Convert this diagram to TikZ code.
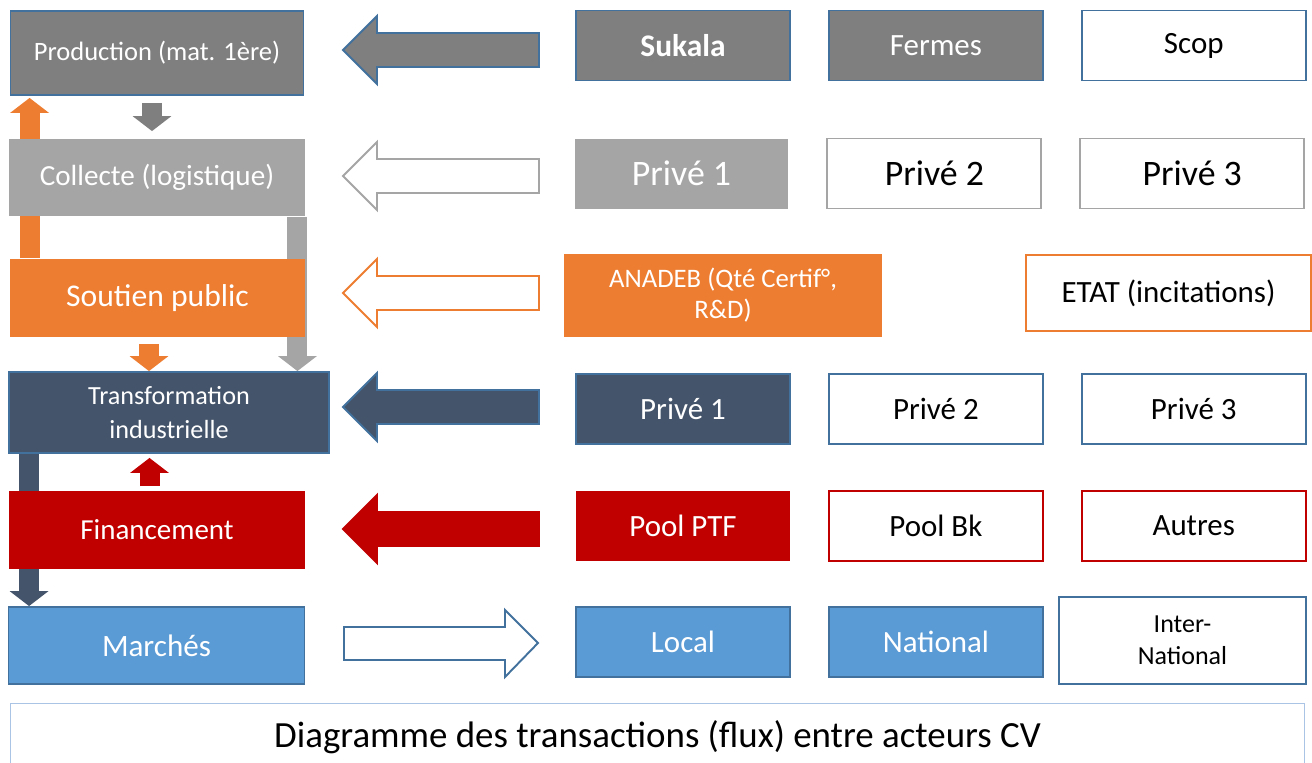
\documentclass[tikz,border=0pt]{standalone}
\usepackage{fontspec}
\setmainfont{Carlito}
\usetikzlibrary{positioning,arrows.meta,backgrounds}

\definecolor{gris}{HTML}{7F7F7F}
\definecolor{grisclair}{HTML}{A5A5A5}
\definecolor{orangecv}{HTML}{ED7D31}
\definecolor{ardoise}{HTML}{44546A}
\definecolor{rouge}{HTML}{C00000}
\definecolor{bleu}{HTML}{5B9BD5}
\definecolor{bleufonce}{HTML}{41719C}
\definecolor{bleupale}{HTML}{A9C4E4}

\begin{document}
\begin{tikzpicture}[
    x=0.02cm, y=-0.02cm,
    every node/.style={align=center, inner sep=2pt},
    boite/.style ={rectangle, line width=1.1pt, text=white},
    etape/.style ={boite, minimum width=5.92cm, minimum height=1.56cm},
    acteur/.style={boite, minimum width=4.28cm, minimum height=1.4cm,
                   font=\fontsize{17.6}{21}\selectfont},
    vide/.style  ={acteur, fill=white, text=black},
    prive/.style ={font=\fontsize{20.4}{24}\selectfont},
    fleche/.style={line width=1.1pt, line join=miter},
    lien/.style  ={line width=0.4cm,
                   -{Triangle[width=0.78cm, length=0.3cm, line width=0pt]}}
  ]
  \useasboundingbox (0,0) rectangle (1312,762);

  % colonne des fonctions
  \node[etape, fill=gris, draw=bleufonce, minimum width=5.86cm, minimum height=1.68cm,
        font=\fontsize{15.1}{18}\selectfont]            (prod)  at (157,53)    {Production (mat. 1ère)};
  \node[etape, fill=grisclair, minimum height=1.54cm,
        font=\fontsize{16.6}{20}\selectfont]            (coll)  at (157,177.5) {Collecte (logistique)};
  \node[etape, fill=orangecv, font=\fontsize{18}{22}\selectfont]
                                                        (sout)  at (157.5,298) {Soutien public};
  \node[etape, fill=ardoise, draw=bleufonce, minimum width=6.4cm, minimum height=1.62cm,
        font=\fontsize{14.9}{19.3}\selectfont]          (trans) at (169,412.5) {Transformation\\industrielle};
  \node[etape, fill=rouge, font=\fontsize{16.5}{20}\selectfont]
                                                        (fin)   at (157,530)   {Financement};
  \node[etape, fill=bleu, draw=bleufonce, minimum height=1.54cm,
        font=\fontsize{17.7}{21}\selectfont]            (march) at (156.5,645.5) {Marchés};

  % acteurs par ligne
  \node[acteur, fill=gris, draw=bleufonce,
        font=\bfseries\fontsize{17.9}{21}\selectfont]   (sukala) at (683,45.5) {Sukala};
  \node[acteur, fill=gris, draw=bleufonce, right=0.74cm of sukala]          (fermes) {Fermes};
  \node[vide, draw=bleufonce, minimum width=4.48cm, right=0.74cm of fermes] (scop)   {Scop};

  \node[acteur, prive, fill=grisclair]                  (priveUn) at (681.5,173.5) {Privé 1};
  \node[vide, prive, draw=grisclair, right=0.74cm of priveUn]                      (priveDeux)  {Privé 2};
  \node[vide, prive, draw=grisclair, minimum width=4.48cm, right=0.74cm of priveDeux] (priveTrois) {Privé 3};

  \node[acteur, fill=orangecv, minimum width=6.36cm, minimum height=1.66cm,
        font=\fontsize{15.2}{17.6}\selectfont]          (anadeb) at (723,295.5) {ANADEB (Qté Certif°,\\R\&D)};
  \node[vide, draw=orangecv, minimum width=5.7cm, minimum height=1.52cm]
                                                        (etat)   at (1168.5,293) {ETAT (incitations)};

  \node[acteur, fill=ardoise, draw=bleufonce]           (indUn) at (683,409) {Privé 1};
  \node[vide, draw=bleufonce, right=0.74cm of indUn]                          (indDeux)  {Privé 2};
  \node[vide, draw=bleufonce, minimum width=4.48cm, right=0.74cm of indDeux]  (indTrois) {Privé 3};

  \node[acteur, fill=rouge]                             (ptf) at (683,526) {Pool PTF};
  \node[vide, draw=rouge, right=0.74cm of ptf]                               (poolbk) {Pool Bk};
  \node[vide, draw=rouge, minimum width=4.48cm, right=0.74cm of poolbk]      (autres) {Autres};

  \node[acteur, fill=bleu, draw=bleufonce]              (local) at (683,642) {Local};
  \node[acteur, fill=bleu, draw=bleufonce, right=0.74cm of local]            (national) {National};
  \node[vide, draw=bleufonce, minimum width=4.94cm, minimum height=1.74cm,
        font=\fontsize{14.8}{18}\selectfont]            (inter) at (1182.5,640.5) {Inter-\\National};

  \node[draw=bleupale, line width=0.6pt, minimum width=25.9cm, minimum height=1.36cm,
        anchor=north, font=\fontsize{21}{25}\selectfont] (titre) at (657.5,703)
        {Diagramme des transactions (flux) entre acteurs CV};

  % grosses flèches entre acteurs et fonctions
  \foreach \yc/\fc/\dc in {50/gris/bleufonce, 176/white/grisclair, 293/white/orangecv,
                           407/ardoise/bleufonce, 529/rouge/rouge}
    \draw[fleche, fill=\fc, draw=\dc] (343,\yc) -- (377,{\yc-34}) -- (377,{\yc-17})
      -- (539,{\yc-17}) -- (539,{\yc+17}) -- (377,{\yc+17}) -- (377,{\yc+34}) -- cycle;
  \draw[fleche, fill=white, draw=bleufonce] (344,627) -- (505,627) -- (505,610)
    -- (538,643) -- (505,677) -- (505,660) -- (344,660) -- cycle;

  % liens entre fonctions
  \draw[lien, gris, shorten <=0.14cm, shorten >=0.14cm]
    ([xshift=-0.1cm]prod.south) -- ([xshift=-0.1cm]prod.south |- coll.north);
  \draw[lien, orangecv, shorten <=0.12cm]
    ([xshift=-0.17cm]sout.south) -- ([xshift=-0.17cm]sout.south |- trans.north);
  \draw[lien, rouge, shorten <=0.08cm, shorten >=0.08cm]
    ([xshift=-0.15cm]fin.north) -- ([xshift=-0.15cm]fin.north |- trans.south);
  \begin{pgfonlayer}{background}
    \draw[lien, orangecv, shorten >=0.04cm]
      ([xshift=0.42cm]sout.north west) -- ([xshift=0.42cm]sout.north west |- prod.south);
    \draw[lien, grisclair]
      ([xshift=-0.17cm]coll.south east) -- ([xshift=-0.17cm]coll.south east |- trans.north);
    \draw[lien, ardoise]
      ([xshift=0.42cm]trans.south west) -- ([xshift=0.42cm]trans.south west |- march.north);
  \end{pgfonlayer}
\end{tikzpicture}
\end{document}
